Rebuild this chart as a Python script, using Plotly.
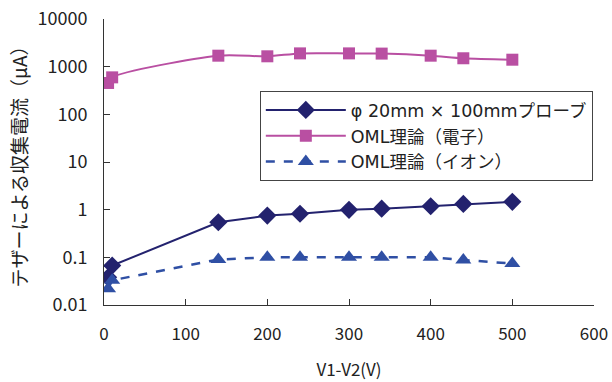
import plotly.graph_objects as go

# Bias voltage V1-V2 (V)
voltage = [5, 10, 140, 200, 240, 300, 340, 400, 440, 500]

# Collected current (uA)
probe_current = [0.038, 0.067, 0.545, 0.75, 0.82, 0.99, 1.05, 1.18, 1.32, 1.46]
oml_electron = [455, 597, 1700, 1650, 1900, 1900, 1880, 1700, 1500, 1400]
oml_ion = [0.022, 0.033, 0.09, 0.1, 0.1, 0.1, 0.1, 0.1, 0.088, 0.074]

names = ["φ 20mm × 100mmプローブ", "OML理論（電子）", "OML理論（イオン）"]

FONT = "Noto Sans CJK JP, Noto Sans, sans-serif"
LEGEND_FONT = "DejaVu Sans, Noto Sans CJK JP, sans-serif"

fig = go.Figure()
fig.add_trace(go.Scatter(
    x=voltage, y=probe_current, name=names[0], mode="lines+markers",
    line=dict(color="#23226e", width=2),
    marker=dict(symbol="diamond", size=14, color="#23226e"),
))
fig.add_trace(go.Scatter(
    x=voltage, y=oml_electron, name=names[1], mode="lines+markers",
    line=dict(color="#b94fa2", width=2, shape="spline", smoothing=0.8),
    marker=dict(symbol="square", size=12, color="#b94fa2"),
))
fig.add_trace(go.Scatter(
    x=voltage, y=oml_ion, name=names[2], mode="lines+markers",
    line=dict(color="#2f4fa4", width=2.5, dash="dash"),
    marker=dict(symbol="triangle-up", size=14, color="#2f4fa4"),
))

fig.update_layout(
    width=612, height=382,
    margin=dict(l=104, r=18, t=19, b=77),
    paper_bgcolor="white", plot_bgcolor="white",
    font=dict(family=FONT, size=17, color="#222222"),
    showlegend=True,
    legend=dict(
        x=0.318, y=0.748, xanchor="left", yanchor="top",
        bgcolor="white", bordercolor="#444444", borderwidth=1,
        font=dict(family=LEGEND_FONT, size=17.5, color="#222222"),
        itemwidth=80, tracegroupgap=0,
    ),
)
fig.update_xaxes(
    range=[0, 600], tickvals=[0, 100, 200, 300, 400, 500, 600],
    showline=True, linecolor="#333333", linewidth=1,
    ticks="inside", ticklen=6, tickcolor="#333333",
    showgrid=False, zeroline=False, automargin=False,
    tickfont=dict(size=17), ticklabelstandoff=14,
    title=dict(text="V1-V2(V)", font=dict(size=17), standoff=19),
)
fig.update_yaxes(
    type="log", range=[-2, 4],
    tickvals=[0.01, 0.1, 1, 10, 100, 1000, 10000],
    ticktext=["0.01", "0.1", "1", "10", "100", "1000", "10000"],
    showline=True, linecolor="#333333", linewidth=1,
    ticks="inside", ticklen=6, tickcolor="#333333",
    showgrid=False, zeroline=False, automargin=False,
    tickfont=dict(size=18), ticklabelstandoff=12,
    title=dict(text="テザーによる収集電流（μA）", font=dict(size=19), standoff=4),
)

fig.write_html("out.html")
